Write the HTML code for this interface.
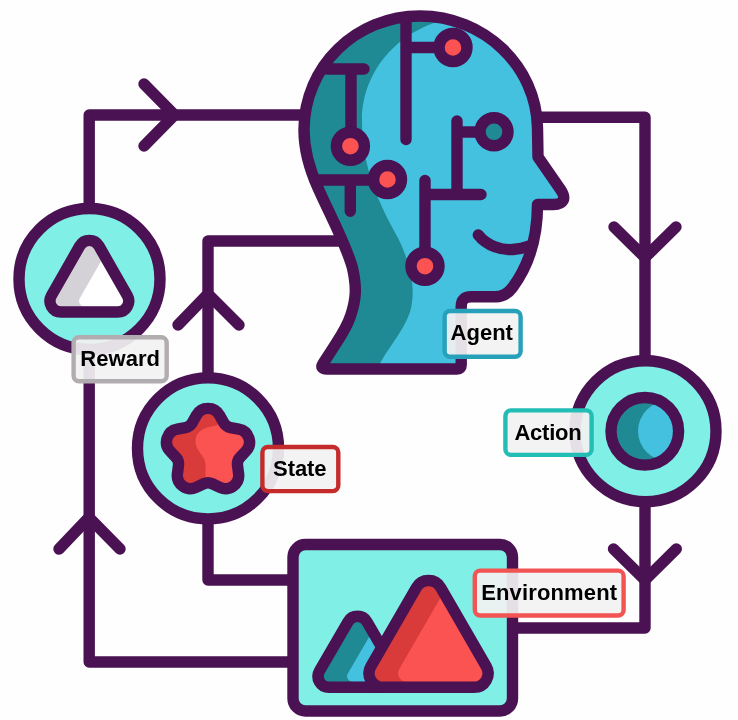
<!DOCTYPE html>
<html lang="en">
<head>
<meta charset="utf-8">
<title>Reinforcement learning loop</title>
<style>
html,body{margin:0;padding:0;background:#fefefe;}
body{width:738px;height:720px;overflow:hidden;}
svg{display:block;will-change:transform;}
text{font-family:"Liberation Sans","DejaVu Sans",sans-serif;font-weight:bold;fill:#000;}
.ink{fill:none;stroke:#4a1252;stroke-width:11.4;stroke-linecap:round;stroke-linejoin:round;}
</style>
</head>
<body>
<svg width="738" height="720" viewBox="0 0 738 720">
<defs>
<path id="headp" d="M420 16 C484 16 536.5 66 537.5 128 L538 157 L560.5 189.5 C567 199 563 204.5 553.5 204.5 L537.5 204.5 C537.5 236 530 264 512.5 287.5 Q505.6 296.8 496 296.8 L471 296.8 Q461.2 296.8 461.2 306.8 L461.2 365 Q461.2 369 457.2 369 L327 369 Q319.5 369 323 363.6 L335 345 C341.5 335 347 327 350.5 316 C356 300 357 288 352.5 268 C346 244 330 215 318 188 C309 168 304 150 304 130 C304 66 356 16 420 16 Z"/>
<clipPath id="headclip"><use href="#headp"/></clipPath>
<clipPath id="actclip"><circle cx="644.8" cy="431.3" r="33.8"/></clipPath>
<path id="rewtri" d="M79.8 245.94 A11 11 0 0 1 98.9 245.94 L127.25 295.54 A11 11 0 0 1 117.7 312 L61 312 A11 11 0 0 1 51.45 295.54 Z"/>
<clipPath id="rewclip"><use href="#rewtri"/></clipPath>
<path id="smtri" d="M347.99 621.77 A11 11 0 0 1 367.01 621.77 L395.51 670.77 A11 11 0 0 1 386 687.3 L329 687.3 A11 11 0 0 1 319.49 670.77 Z"/>
<clipPath id="smclip"><use href="#smtri"/></clipPath>
<path id="bigtri" d="M416.43 587.49 A14 14 0 0 1 440.67 587.49 L486.22 666.29 A14 14 0 0 1 474.1 687.3 L383 687.3 A14 14 0 0 1 370.88 666.29 Z"/>
<clipPath id="bigclip"><use href="#bigtri"/></clipPath>
<path id="starp" d="M196.42 415.2 A13.2 13.2 0 0 1 219.58 415.2 L223.6 422.55 A10 10 0 0 0 230.52 427.58 L238.75 429.13 A13.2 13.2 0 0 1 245.91 451.16 L240.16 457.25 A10 10 0 0 0 237.52 465.39 L238.59 473.69 A13.2 13.2 0 0 1 219.85 487.31 L212.28 483.73 A10 10 0 0 0 203.72 483.73 L196.15 487.31 A13.2 13.2 0 0 1 177.41 473.69 L178.48 465.39 A10 10 0 0 0 175.84 457.25 L170.09 451.16 A13.2 13.2 0 0 1 177.25 429.13 L185.48 427.58 A10 10 0 0 0 192.4 422.55 Z"/>
<clipPath id="starclip"><use href="#starp"/></clipPath>
</defs>
<g class="ink">
<path d="M304 115 L89.2 115 L89.2 662 L293 662"/>
<path d="M536 117.3 L645 117.3 L645 628 L513 628"/>
<path d="M342 241 L208 241 L208 580 L293 580"/>
<path d="M144 84 L174.5 115 L144 146"/>
<path d="M614 227 L645 257.5 L676 227"/>
<path d="M613.5 549 L645 580 L676.3 549"/>
<path d="M59 549 L89 517.5 L120 549"/>
<path d="M178 325 L208 294 L239 325"/>
</g>
<use href="#headp" fill="#45c1e0"/>
<path d="M290 0 L445 0 L445 20 C400 30 362 70 362 120 C362 170 380 205 398 238 C412 266 416 292 410 312 C402 335 385 350 376 372 L290 372 Z" fill="#1f8a93" clip-path="url(#headclip)"/>
<g class="ink">
<use href="#headp"/>
<path d="M327 69 L364 69 M351 69 L351 146"/>
<path d="M406 20 L406 139.5 M406 47.5 L453 47.5"/>
<path d="M315 180 L387 180 M350.3 180 L350.3 211.3"/>
<path d="M425 180.5 L425 266 M425 194.5 L481 194.5 M457 121 L457 194.5 M457 132 L494 132"/>
<path d="M478.3 235 C487 246 502 250.5 513 249.5 C519 249 524 248 529 246"/>
</g>
<g stroke="#4a1252" stroke-width="11.4">
<circle cx="350.4" cy="146.2" r="14" fill="#fb5252"/>
<circle cx="453" cy="47.5" r="14" fill="#fb5252"/>
<circle cx="387.5" cy="179.5" r="14" fill="#fb5252"/>
<circle cx="425" cy="266.2" r="14" fill="#fb5252"/>
<circle cx="494" cy="131.8" r="14" fill="#1f8a93"/>
</g>
<circle cx="89.5" cy="279" r="70.5" fill="#80efe5" stroke="#4a1252" stroke-width="11.4"/>
<use href="#rewtri" fill="#d5d2d7"/>
<path d="M108.17 248.67 A5.5 5.5 0 0 1 117.73 248.67 L146.08 298.27 A5.5 5.5 0 0 1 141.3 306.5 L84.6 306.5 A5.5 5.5 0 0 1 79.82 298.27 Z" fill="#ffffff" clip-path="url(#rewclip)"/>
<use href="#rewtri" class="ink"/>
<circle cx="208" cy="448.4" r="70.5" fill="#80efe5" stroke="#4a1252" stroke-width="11.4"/>
<use href="#starp" fill="#d93a3a"/>
<path d="M230 400 L217 425.5 C206 427 196 430 195.5 441 C195.5 452 205.5 455 205.5 465 L205.5 500 L270 500 L270 400 Z" fill="#fb5252" clip-path="url(#starclip)"/>
<use href="#starp" class="ink"/>
<circle cx="645.5" cy="431.2" r="70.5" fill="#80efe5" stroke="#4a1252" stroke-width="11.4"/>
<circle cx="644.8" cy="431.3" r="33.8" fill="#1f8a93"/>
<circle cx="668" cy="431" r="30" fill="#45c1e0" clip-path="url(#actclip)"/>
<circle cx="644.8" cy="431.3" r="33.8" class="ink"/>
<rect x="293" y="544.5" width="219.5" height="166.5" rx="12.5" fill="#80efe5" stroke="#4a1252" stroke-width="11.4"/>
<use href="#smtri" fill="#1f8a93"/>
<path d="M376.35 624.53 A5.5 5.5 0 0 1 385.85 624.53 L414.35 673.53 A5.5 5.5 0 0 1 409.6 681.8 L352.6 681.8 A5.5 5.5 0 0 1 347.85 673.53 Z" fill="#45c1e0" clip-path="url(#smclip)"/>
<use href="#smtri" class="ink"/>
<use href="#bigtri" fill="#d93a3a"/>
<path d="M444.79 590.25 A8.5 8.5 0 0 1 459.51 590.25 L505.06 669.05 A8.5 8.5 0 0 1 497.7 681.8 L406.6 681.8 A8.5 8.5 0 0 1 399.24 669.05 Z" fill="#fb5252" clip-path="url(#bigclip)"/>
<use href="#bigtri" class="ink"/>
<g stroke-width="4.4" fill="#f2f2f2" fill-opacity="0.92">
<rect x="73.6" y="337.3" width="93.1" height="44" rx="5.5" stroke="#b1acaf"/>
<rect x="262.4" y="447" width="75.9" height="44.1" rx="5.5" stroke="#c62b2b"/>
<rect x="444.65" y="311" width="75.95" height="45.7" rx="5.5" stroke="#27a0ba"/>
<rect x="505.4" y="410.4" width="86.2" height="44.5" rx="5.5" stroke="#22bdb5"/>
<rect x="474.8" y="570.6" width="148.8" height="44.9" rx="5.5" stroke="#f25353"/>
</g>
<g font-size="22">
<text x="80.3" y="365.7" textLength="79.7" lengthAdjust="spacing">Reward</text>
<text x="273" y="475.65" textLength="53.6" lengthAdjust="spacing">State</text>
<text x="450.6" y="339.6" textLength="62.3" lengthAdjust="spacing">Agent</text>
<text x="514.43" y="439.5" textLength="67.35" lengthAdjust="spacing">Action</text>
<text x="481.15" y="599.5" textLength="135.9" lengthAdjust="spacing">Environment</text>
</g>
</svg>
</body>
</html>
